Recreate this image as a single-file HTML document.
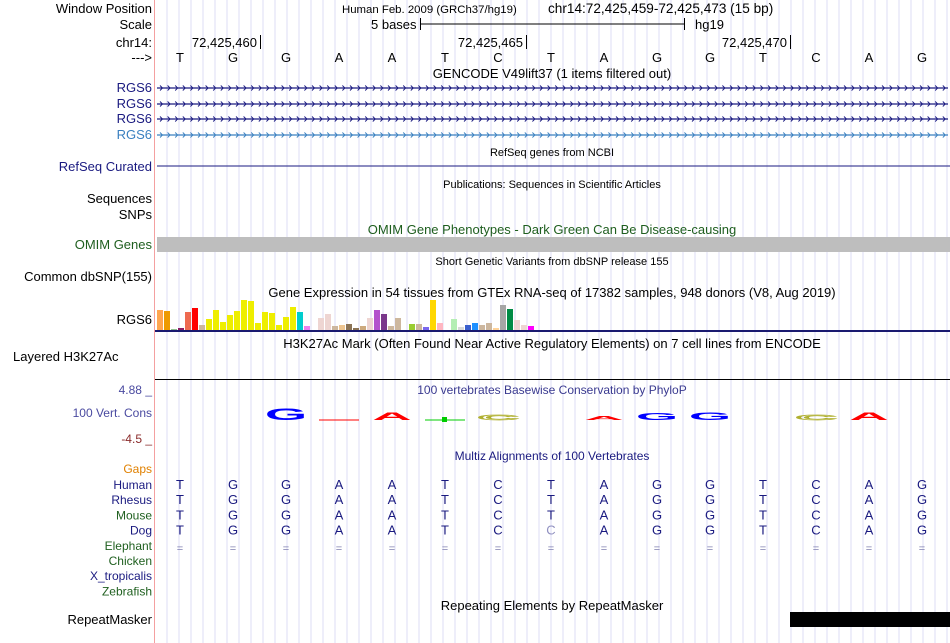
<!DOCTYPE html>
<html><head><meta charset="utf-8"><style>
body{margin:0;background:#fff}
svg{display:block;font-family:"Liberation Sans",sans-serif}
</style></head><body>
<svg id="g" width="950" height="643" viewBox="0 0 950 643"></svg>
<script>
const bases=["T","G","G","A","A","T","C","T","A","G","G","T","C","A","G"];
const gtexHeights=[20,19,1,2,18,22,5,11,20,8,15,19,30,29,7,18,17,5,13,23,18,4,0,12,16,4,5,6,2,4,12,20,16,4,12,0,6,6,3,30,7,0,11,3,5,7,5,7,2,25,21,10,5,4];
const gtexColors=["#FFA54F","#EE9A00","#8FBC8F","#8B1C62","#EE6A50","#FF0000","#CDB79E","#EEEE00","#EEEE00","#EEEE00","#EEEE00","#EEEE00","#EEEE00","#EEEE00","#EEEE00","#EEEE00","#EEEE00","#EEEE00","#EEEE00","#EEEE00","#00CDCD","#EE82EE","#9AC0CD","#EED5D2","#EED5D2","#CDB79E","#EEC591","#8B7355","#8B7355","#CDAA7D","#EED5D2","#B452CD","#7A378B","#CDB79E","#CDB79E","#CDB79E","#9ACD32","#CDB79E","#7A67EE","#FFD700","#FFB6C1","#CD9B1D","#B4EEB4","#D9D9D9","#3A5FCD","#1E90FF","#CDB79E","#CDB79E","#FFD39B","#A6A6A6","#008B45","#EED5D2","#EED5D2","#FF00FF"];
const logoLetters=["","","G","A","A","T","C","","A","G","G","","C","A",""];
const logoHeights=[0,12,12,1,8,1,5,0,4,7,8,0,5,8,0];
const species=["Human","Rhesus","Mouse","Dog","Elephant","Chicken","X_tropicalis","Zebrafish"];
const speciesColors=["#1a1a80","#1a1a80","#206020","#1a1a80","#206020","#206020","#1a1a80","#206020"];
const dogRow=["T","G","G","A","A","T","C","C","A","G","G","T","C","A","G"];

const S=document.getElementById('g');const NS="http://www.w3.org/2000/svg";
function el(t,a,txt,name){const e=document.createElementNS(NS,t);for(const k in a)e.setAttribute(k,a[k]);if(txt!=null)e.textContent=txt;


S.appendChild(e);return e;}
const bx=i=>180+53*i;
for(let x=167;x<950;x+=12)el('line',{x1:x,y1:0,x2:x,y2:643,stroke:'#dcdcf6','stroke-width':1},null,'grid-line');
el('line',{x1:154.5,y1:0,x2:154.5,y2:643,stroke:'#f4a0a0'},null,'label-divider');
function lab(y,t,c,fs,name){return el('text',{x:152,y:y,'text-anchor':'end','font-size':fs||13,fill:c||'#000'},t,name||'track-label');}
function ctr(x,y,t,c,fs,name){return el('text',{x:x,y:y,'text-anchor':'middle','font-size':fs||13,fill:c||'#000'},t,name||'track-title');}
lab(13,"Window Position");lab(29,"Scale");lab(47,"chr14:");lab(62,"--->");
el('text',{x:342,y:13,'font-size':11.4},"Human Feb. 2009 (GRCh37/hg19)",'position-title');
el('text',{x:548,y:13,'font-size':13.6},"chr14:72,425,459-72,425,473 (15 bp)",'position-range');
el('text',{x:371,y:29,'font-size':13},"5 bases",'scale-label');
el('line',{x1:420,y1:24,x2:685,y2:24,stroke:'#000'},null,'scale-bar');
el('line',{x1:420.5,y1:18,x2:420.5,y2:30,stroke:'#000'},null,'scale-tick');
el('line',{x1:684.5,y1:18,x2:684.5,y2:30,stroke:'#000'},null,'scale-tick');
el('text',{x:695,y:29,'font-size':13},"hg19",'assembly-label');
[[260,"72,425,460"],[526,"72,425,465"],[790,"72,425,470"]].forEach(p=>{el('text',{x:p[0]-3,y:47,'text-anchor':'end','font-size':13},p[1],'coordinate-label');el('line',{x1:p[0]+.5,y1:35,x2:p[0]+.5,y2:49,stroke:'#000'},null,'coordinate-tick');});
bases.forEach((b,i)=>ctr(bx(i),62,b,'#000',13,'reference-base'));
ctr(552,78,"GENCODE V49lift37 (1 items filtered out)",'#000',13);
[[92,'#1a1a80'],[108,'#1a1a80'],[123,'#1a1a80'],[139,'#3a80c0']].forEach(r=>{lab(r[0],"RGS6",r[1]);const y=r[0]-4;
el('line',{x1:157,y1:y,x2:948,y2:y,stroke:r[1],'stroke-width':1.2},null,'gene-line');
let d='';for(let x=160;x<948;x+=7.6)d+=`M${x},${y-2.5}L${x+2.5},${y}L${x},${y+2.5}`;el('path',{d:d,stroke:r[1],fill:'none','stroke-width':0.9},null,'strand-arrows');});
ctr(552,156,"RefSeq genes from NCBI",'#000',11);
lab(171,"RefSeq Curated",'#1a1a80');el('line',{x1:157,y1:166,x2:950,y2:166,stroke:'#1a1a80'},null,'refseq-line');
ctr(552,188,"Publications: Sequences in Scientific Articles",'#000',11);
lab(203,"Sequences");lab(219,"SNPs");
ctr(552,234,"OMIM Gene Phenotypes - Dark Green Can Be Disease-causing",'#1e5e1e');
lab(249,"OMIM Genes",'#1e5e1e');el('rect',{x:157,y:237,width:793,height:15,fill:'#bebebe'},null,'omim-bar');
ctr(552,265,"Short Genetic Variants from dbSNP release 155",'#000',11);
lab(281,"Common dbSNP(155)");
ctr(552,297,"Gene Expression in 54 tissues from GTEx RNA-seq of 17382 samples, 948 donors (V8, Aug 2019)");
lab(324,"RGS6");
const gy=v=>330-v;
gtexHeights.forEach((h,i)=>{if(h>0)el('rect',{x:157+i*7,y:gy(h),width:6,height:h,fill:gtexColors[i]},null,'gtex-bar');});
el('rect',{x:155,y:330,width:795,height:2,fill:'#1a1a70'},null,'gtex-baseline');
ctr(552,348,"H3K27Ac Mark (Often Found Near Active Regulatory Elements) on 7 cell lines from ENCODE");
el('text',{x:13,y:361,'font-size':13},"Layered H3K27Ac",'track-label');
el('line',{x1:155,y1:379.5,x2:950,y2:379.5,stroke:'#000'},null,'h3k27ac-line');
lab(394,"4.88 _",'#4a4aa0',12);lab(417,"100 Vert. Cons",'#4a4aa0',12);lab(443,"-4.5 _",'#8a2a2a',12);
ctr(552,394,"100 vertebrates Basewise Conservation by PhyloP",'#3a3a90',12);
const lc={A:'#ff0000',C:'#b0b030',G:'#0000ff',T:'#00cc00'};
logoLetters.forEach((L,i)=>{const h=logoHeights[i];if(!h)return;
if(h<=1){el('line',{x1:bx(i)-20,y1:420,x2:bx(i)+20,y2:420,stroke:lc[L]},null,'logo-letter');if(L=='T')el('rect',{x:bx(i)-3,y:417,width:5,height:5,fill:lc[L]},null,'logo-letter');return;}
el('text',{x:0,y:0,'text-anchor':'middle','font-size':16,'font-weight':'bold',fill:L=='C'?'none':lc[L],stroke:L=='C'?lc[L]:'none','stroke-width':1.5,transform:`translate(${bx(i)},420) scale(3.4,${h/11.5})`},L,'logo-letter');});
ctr(552,460,"Multiz Alignments of 100 Vertebrates",'#1a1a80',12);
lab(473,"Gaps",'#e08000',12);
species.forEach((s,j)=>{const y=489+j*15.2;lab(y,s,speciesColors[j],12,'species-label');
if(j<4)bases.forEach((b,i)=>{const c=(j==3?dogRow[i]:b);ctr(bx(i),y,c,(j==3&&i==7)?'#9090c0':'#1a1a80',13,'aligned-base');});
if(j==4)bases.forEach((b,i)=>ctr(bx(i),y+2,"=",'#8080b0',11,'gap-mark'));});
ctr(552,610,"Repeating Elements by RepeatMasker",'#000',13);
lab(624,"RepeatMasker");
el('rect',{x:790,y:612,width:160,height:15,fill:'#000'},null,'repeat-block');
</script>
</body></html>
